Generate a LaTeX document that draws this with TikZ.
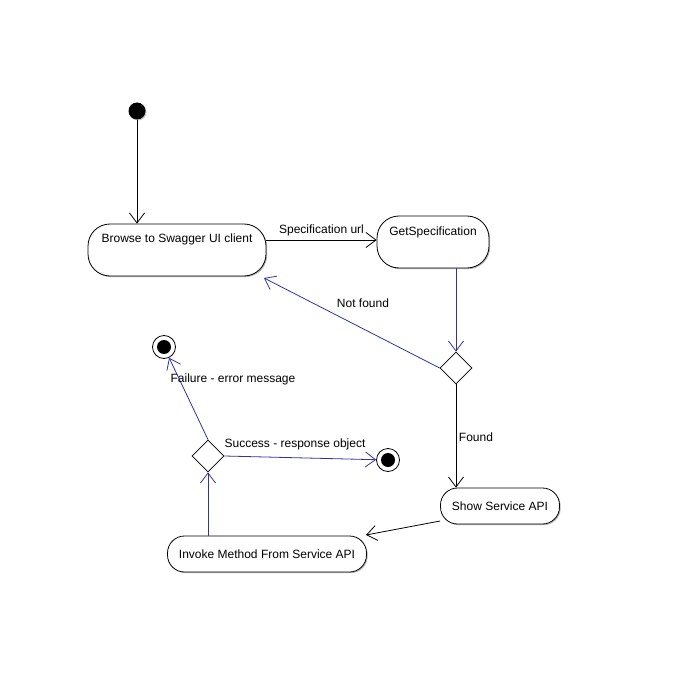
\documentclass[tikz,border=0pt]{standalone}
\usepackage{fontspec}
\setmainfont{Liberation Sans}
\usetikzlibrary{arrows.meta,shapes.geometric,shadows}
\definecolor{flowblue}{RGB}{50,50,165}
\begin{document}
\begin{tikzpicture}[x=1pt,y=-1pt,
  every node/.style={font=\fontsize{12}{14}\selectfont},
  action/.style={draw, line width=0.8pt, fill=white, rounded corners=22pt,
    inner sep=0pt, drop shadow={shadow xshift=1.2pt, shadow yshift=-1.2pt, fill=black!45, opacity=0.6}},
  decision/.style={draw, diamond, aspect=1, line width=0.8pt, fill=white,
    minimum width=32pt, minimum height=32pt, inner sep=0pt},
  startdot/.style={circle, fill=black, minimum size=17pt, inner sep=0pt,
    drop shadow={shadow xshift=1pt, shadow yshift=-1pt, fill=black!40, opacity=0.6}},
  enddot/.style={circle, draw, line width=0.8pt, fill=white, minimum size=23pt, inner sep=0pt},
  flow/.style={line width=0.8pt, -{Straight Barb[length=10pt, width=15pt, line width=0.8pt]}},
  bflow/.style={flow, flowblue},
  lbl/.style={inner sep=0pt, text=black}]
\useasboundingbox (0,0) rectangle (679,676);

% states
\node[startdot] (start) at (137,111) {};
\node[action, minimum width=178pt, minimum height=52pt,
  text height=16.5pt, text depth=31.5pt] (browse) at (177,250) {Browse to Swagger UI client};
\node[action, minimum width=112pt, minimum height=52pt,
  text height=17.5pt, text depth=30.5pt] (getspec) at (433,242) {GetSpecification};
\node[decision] (d1) at (456,368) {};
\node[action, rounded corners=17pt, minimum width=119pt, minimum height=36pt] (show) at (500,506) {Show Service API};
\node[action, rounded corners=17pt, minimum width=199pt, minimum height=36pt] (invoke) at (267,554) {Invoke Method From Service API};
\node[decision] (d2) at (208,456) {};
\node[enddot] (endfail) at (164,347) {};
\node[enddot] (endok) at (388,460) {};
\fill (endfail.center) circle (7pt);
\fill (endok.center) circle (7pt);

% transitions
\draw[flow] (start) -- (browse.north -| start);
\draw[flow] (browse.east |- 0,240) -- (getspec.west |- 0,240)
  node[lbl, midway, above=4pt] (lspec) {Specification url};
\draw[bflow] (getspec.south -| d1) -- (d1.north);
\draw[bflow] (d1.west) -- (264,278) coordinate (notfoundend);
\draw[flow] (d1.south) -- (show.north -| d1);
\draw[flow] (show.west |- 0,521) -- (366,535) coordinate (invokeend);
\draw[bflow] (invoke.north -| d2) -- (d2.south);
\draw[bflow] (d2.north) -- (endfail);
\draw[bflow] (d2.east) -- (endok);
\node[lbl] (lnot) at (363,303) {Not found};
\node[lbl] (lfound) at (476,437) {Found};
\node[lbl] (lfail) at (233,379) {Failure - error message};
\node[lbl] (lok) at (295,444) {Success - response object};
\end{tikzpicture}
\end{document}
